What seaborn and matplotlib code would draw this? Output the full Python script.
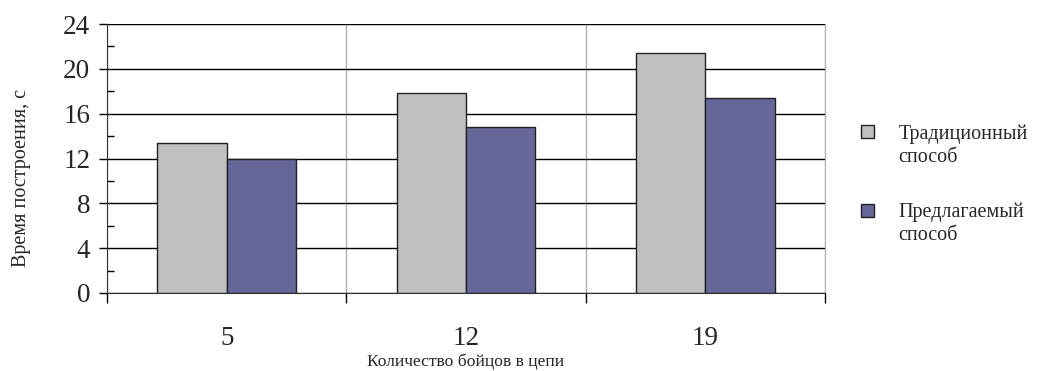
import pandas as pd
import numpy as np
import matplotlib
matplotlib.use("Agg")
import matplotlib.pyplot as plt
import seaborn as sns
from matplotlib.ticker import MultipleLocator, FixedLocator

# Дані del gràfic
bojcy = ["5", "12", "19"]
tradicionnyj = [13.4, 17.8, 21.4]
predlagaemyj = [12.0, 14.8, 17.4]
series_names = ["Традиционный", "Предлагаемый"]
series_tail = "способ"
y_ticks = [0, 4, 8, 12, 16, 20, 24]

df = pd.DataFrame({
    "bojcy": bojcy * 2,
    "time": tradicionnyj + predlagaemyj,
    "sposob": [series_names[0]] * 3 + [series_names[1]] * 3,
})

sns.set_style("white")
plt.rcParams["font.family"] = ["Liberation Serif", "DejaVu Serif"]

fig = plt.figure(figsize=(10.37, 3.71), dpi=100)
ax = fig.add_axes([107 / 1037, 1 - 293 / 371, (825 - 107) / 1037, (293 - 24) / 371])

sns.barplot(data=df, x="bojcy", y="time", hue="sposob",
            palette=["#C0C0C0", "#666699"], width=0.58, gap=0,
            edgecolor="#222222", linewidth=1, saturation=1, ax=ax)

ax.set_xlim(-0.5, 2.5)
ax.set_ylim(0, 24)
ax.yaxis.set_major_locator(FixedLocator(y_ticks))
ax.yaxis.set_minor_locator(MultipleLocator(2))
ax.xaxis.set_minor_locator(FixedLocator([-0.5, 0.5, 1.5, 2.5]))

# reixeta
ax.set_axisbelow(True)
ax.grid(True, axis="y", which="major", color="black", linewidth=1)
ax.grid(True, axis="x", which="minor", color="#b0b0b0", linewidth=1)
ax.grid(False, axis="x", which="major")

ax.tick_params(axis="y", which="major", direction="out", length=6, width=1,
               color="black", labelsize=19.5, left=True, pad=6)
ax.tick_params(axis="y", which="minor", direction="in", length=5, width=1,
               color="black", left=True)
ax.tick_params(axis="x", which="major", length=0, labelsize=19.5, pad=24)
ax.tick_params(axis="x", which="minor", direction="out", length=7, width=1,
               color="black", bottom=True)

ax.spines["top"].set_visible(False)
ax.spines["left"].set_color("#333333")
ax.spines["bottom"].set_color("#333333")
ax.spines["right"].set_color("#b0b0b0")

ax.set_xlabel("Количество бойцов в цепи", fontsize=12.6, va="center")
ax.xaxis.set_label_coords(0.5, (293 - 362) / 269)
ax.set_ylabel("Время построения, с", fontsize=14.5, va="center")
ax.yaxis.set_label_coords((22 - 107) / 718, (293 - 178) / 269)

# llegenda
handles, labels = ax.get_legend_handles_labels()
ax.get_legend().remove()
leg = fig.legend(handles, labels, loc="upper left", bbox_to_anchor=(861 / 1037, 1 - 124 / 371),
                 frameon=False, fontsize=14.5, handlelength=0.65, handleheight=0.65,
                 handletextpad=1.2, labelspacing=2.95, borderpad=0, borderaxespad=0)

# segona línia de cada etiqueta
fig.canvas.draw()
for t in leg.get_texts():
    bb = t.get_window_extent()
    fig.text(bb.x0 / fig.bbox.width, (bb.y0 - 4) / fig.bbox.height, series_tail,
             fontsize=14.5, ha="left", va="top")

fig.savefig("out.png", dpi=100)
